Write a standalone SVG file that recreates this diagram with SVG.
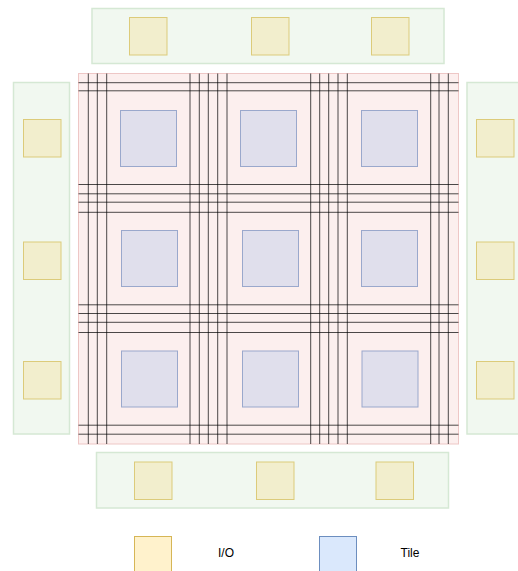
<svg xmlns="http://www.w3.org/2000/svg" width="518" height="571" viewBox="0 0 518 571">
<style>
.bank{fill:#f1f8f0;stroke:#d5e8d4;stroke-width:1.5}
.io{fill:#f2eecd;stroke:#dccb7a;stroke-width:1}
.fabric{fill:#fcefee;stroke:#eec7c6;stroke-width:1}
.tile{fill:#e0dfec;stroke:#9aa8cc;stroke-width:1}
.wire{stroke:#000;stroke-opacity:0.7;stroke-width:1;fill:none}
.lg-io{fill:#fff2cc;stroke:#d6b656;stroke-width:1}
.lg-tile{fill:#dae8fc;stroke:#6c8ebf;stroke-width:1}
.lbl{font-family:"Liberation Sans",Arial,sans-serif;font-size:12px;fill:#000;text-anchor:middle}
</style>
<rect width="518" height="571" fill="#fff"/>
<g id="io-bank-top">
<rect class="bank" x="92" y="8.5" width="352" height="55"/>
<rect class="io" x="129.5" y="17.5" width="37.5" height="37.5"/>
<rect class="io" x="251.5" y="17.5" width="37.5" height="37.5"/>
<rect class="io" x="371.5" y="17.5" width="37.5" height="37.5"/>
</g>
<g id="io-bank-left">
<rect class="bank" x="13.5" y="82.5" width="56" height="351.5"/>
<rect class="io" x="23.5" y="119.5" width="37.5" height="37.5"/>
<rect class="io" x="23.5" y="242" width="37.5" height="37.5"/>
<rect class="io" x="23.5" y="361.5" width="37.5" height="37.5"/>
</g>
<g id="io-bank-right">
<rect class="bank" x="467" y="82.5" width="56" height="351.5"/>
<rect class="io" x="476.5" y="119.5" width="37.5" height="37.5"/>
<rect class="io" x="476.5" y="242" width="37.5" height="37.5"/>
<rect class="io" x="476.5" y="361.5" width="37.5" height="37.5"/>
</g>
<g id="io-bank-bottom">
<rect class="bank" x="96.5" y="452.5" width="352" height="55.5"/>
<rect class="io" x="134.5" y="462" width="37.5" height="37.5"/>
<rect class="io" x="256.5" y="462" width="37.5" height="37.5"/>
<rect class="io" x="376" y="462" width="37.5" height="37.5"/>
</g>
<g id="fabric">
<rect class="fabric" x="78.5" y="73.5" width="380" height="370.5"/>
</g>
<g id="tiles">
<rect id="tile-1-1" class="tile" x="120.5" y="110.5" width="56" height="56"/>
<rect id="tile-1-2" class="tile" x="240.5" y="110.5" width="56" height="56"/>
<rect id="tile-1-3" class="tile" x="361.5" y="110.5" width="56" height="56"/>
<rect id="tile-2-1" class="tile" x="121.5" y="230.5" width="56" height="56"/>
<rect id="tile-2-2" class="tile" x="242.5" y="230.5" width="56" height="56"/>
<rect id="tile-2-3" class="tile" x="361.5" y="230.5" width="56" height="56"/>
<rect id="tile-3-1" class="tile" x="121.5" y="351" width="56" height="56"/>
<rect id="tile-3-2" class="tile" x="242.5" y="351" width="56" height="56"/>
<rect id="tile-3-3" class="tile" x="362" y="351" width="56" height="56"/>
</g>
<g id="connectors">
<line class="wire" x1="88.3" y1="73.5" x2="88.3" y2="444"/>
<line class="wire" x1="97.3" y1="73.5" x2="97.3" y2="444"/>
<line class="wire" x1="106.7" y1="73.5" x2="106.7" y2="444"/>
<line class="wire" x1="190" y1="73.5" x2="190" y2="444"/>
<line class="wire" x1="199.3" y1="73.5" x2="199.3" y2="444"/>
<line class="wire" x1="208.3" y1="73.5" x2="208.3" y2="444"/>
<line class="wire" x1="217.7" y1="73.5" x2="217.7" y2="444"/>
<line class="wire" x1="227" y1="73.5" x2="227" y2="444"/>
<line class="wire" x1="310.7" y1="73.5" x2="310.7" y2="444"/>
<line class="wire" x1="319.7" y1="73.5" x2="319.7" y2="444"/>
<line class="wire" x1="328.7" y1="73.5" x2="328.7" y2="444"/>
<line class="wire" x1="338" y1="73.5" x2="338" y2="444"/>
<line class="wire" x1="347.3" y1="73.5" x2="347.3" y2="444"/>
<line class="wire" x1="430.7" y1="73.5" x2="430.7" y2="444"/>
<line class="wire" x1="439" y1="73.5" x2="439" y2="444"/>
<line class="wire" x1="448.3" y1="73.5" x2="448.3" y2="444"/>
<line class="wire" x1="78.5" y1="82.7" x2="458.5" y2="82.7"/>
<line class="wire" x1="78.5" y1="90.8" x2="458.5" y2="90.8"/>
<line class="wire" x1="78.5" y1="184.5" x2="458.5" y2="184.5"/>
<line class="wire" x1="78.5" y1="193.8" x2="458.5" y2="193.8"/>
<line class="wire" x1="78.5" y1="202.2" x2="458.5" y2="202.2"/>
<line class="wire" x1="78.5" y1="212.3" x2="458.5" y2="212.3"/>
<line class="wire" x1="78.5" y1="304.8" x2="458.5" y2="304.8"/>
<line class="wire" x1="78.5" y1="313.5" x2="458.5" y2="313.5"/>
<line class="wire" x1="78.5" y1="322.3" x2="458.5" y2="322.3"/>
<line class="wire" x1="78.5" y1="332.5" x2="458.5" y2="332.5"/>
<line class="wire" x1="78.5" y1="425.2" x2="458.5" y2="425.2"/>
<line class="wire" x1="78.5" y1="434.2" x2="458.5" y2="434.2"/>
</g>
<g id="legend-io">
<rect class="lg-io" x="134.5" y="536.5" width="37" height="40"/>
<text class="lbl" x="226" y="557">I/O</text>
</g>
<g id="legend-tile">
<rect class="lg-tile" x="319.5" y="536.5" width="37" height="40"/>
<text class="lbl" x="410" y="557">Tile</text>
</g>
</svg>
